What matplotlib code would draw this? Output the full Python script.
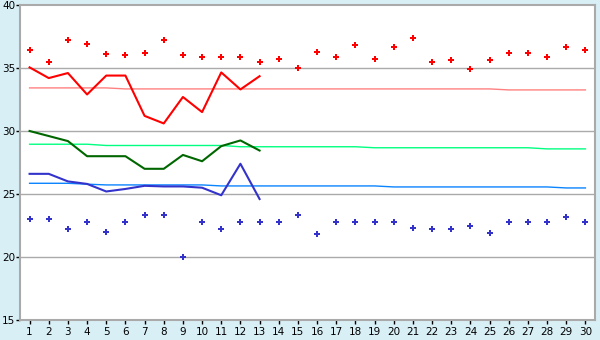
import matplotlib
matplotlib.use("Agg")
import matplotlib.pyplot as plt

days = list(range(1, 31))
obs_days = list(range(1, 14))

# daily maximum / mean / minimum (observed part of the month)
max_line = [35.05, 34.2, 34.6, 32.9, 34.4, 34.4, 31.2, 30.6, 32.7, 31.5, 34.65, 33.3, 34.35]
mean_line = [30.0, 29.6, 29.2, 28.0, 28.0, 28.0, 27.0, 27.0, 28.1, 27.6, 28.8, 29.25, 28.45]
min_line = [26.6, 26.6, 26.0, 25.8, 25.2, 25.4, 25.65, 25.6, 25.6, 25.5, 24.9, 27.4, 24.6]

# normals
max_normal = [33.42, 33.42, 33.42, 33.42, 33.42, 33.34, 33.34, 33.34, 33.34, 33.34,
              33.34, 33.34, 33.34, 33.34, 33.34, 33.34, 33.34, 33.34, 33.34, 33.34,
              33.34, 33.34, 33.34, 33.34, 33.34, 33.26, 33.26, 33.26, 33.26, 33.26]
mean_normal = [28.95, 28.95, 28.95, 28.95, 28.85, 28.85, 28.85, 28.85, 28.85, 28.85,
               28.85, 28.75, 28.75, 28.75, 28.75, 28.75, 28.75, 28.75, 28.67, 28.67,
               28.67, 28.67, 28.67, 28.67, 28.67, 28.67, 28.67, 28.58, 28.58, 28.58]
min_normal = [25.85, 25.85, 25.85, 25.78, 25.72, 25.72, 25.72, 25.72, 25.72, 25.72,
              25.64, 25.64, 25.64, 25.64, 25.64, 25.64, 25.64, 25.64, 25.64, 25.56,
              25.56, 25.56, 25.56, 25.56, 25.56, 25.56, 25.56, 25.56, 25.48, 25.48]

# record highs / lows
max_record = [36.4, 35.45, 37.2, 36.9, 36.1, 36.0, 36.2, 37.2, 36.0, 35.9,
              35.9, 35.9, 35.5, 35.7, 35.0, 36.3, 35.9, 36.8, 35.7, 36.7,
              37.4, 35.45, 35.6, 34.9, 35.6, 36.2, 36.2, 35.9, 36.7, 36.4]
min_record = [23.0, 23.0, 22.2, 22.8, 22.0, 22.8, 23.3, 23.3, 20.0, 22.75,
              22.2, 22.8, 22.8, 22.8, 23.3, 21.8, 22.8, 22.8, 22.8, 22.8,
              22.3, 22.2, 22.2, 22.5, 21.9, 22.8, 22.8, 22.8, 23.15, 22.8]

bg = "#d9eff6"
grid_col = "#aaaaaa"

fig = plt.figure(figsize=(6, 3.4), dpi=100, facecolor=bg)
ax = fig.add_axes([20 / 600, 20 / 340, 575 / 600, 315 / 340])
ax.set_facecolor("white")

ax.plot(days, max_normal, color="#ff8080", lw=1)
ax.plot(days, mean_normal, color="#00ff80", lw=1)
ax.plot(days, min_normal, color="#0a84ff", lw=1)

ax.plot(obs_days, max_line, color="#ff0000", lw=1.5)
ax.plot(obs_days, mean_line, color="#006600", lw=1.5)
ax.plot(obs_days, min_line, color="#3333cc", lw=1.5)

ax.plot(days, max_record, ls="none", marker="P", ms=5, color="#ff0000", mew=0)
ax.plot(days, min_record, ls="none", marker="P", ms=5, color="#3333cc", mew=0)

ax.set_xlim(0.5, 30.5)
ax.set_ylim(15, 40)
ax.set_xticks(days)
ax.set_yticks([15, 20, 25, 30, 35, 40])
for y in [20, 25, 30, 35]:
    ax.axhline(y, color=grid_col, lw=1, zorder=0)

for s in ax.spines.values():
    s.set_color(grid_col)
    s.set_linewidth(1.5)
ax.tick_params(axis="both", colors="black", labelsize=7.5, length=3, width=1)
ax.tick_params(axis="x", pad=2)
ax.tick_params(axis="y", pad=0.5)

fig.savefig("out.png", dpi=100, facecolor=bg)
